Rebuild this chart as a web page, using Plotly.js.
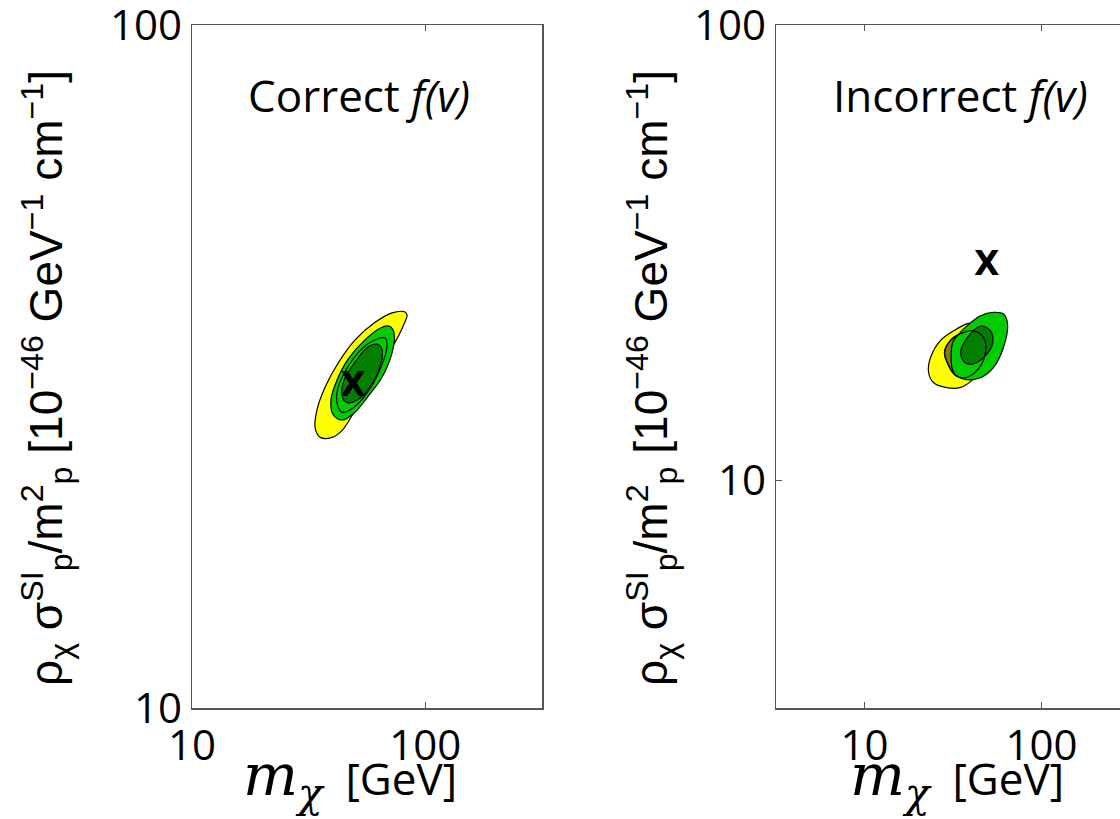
<!DOCTYPE html>
<html>
<head>
<meta charset="utf-8">
<script src="https://cdn.plot.ly/plotly-3.0.1.min.js"></script>
<style>
html,body{margin:0;padding:0;overflow:hidden;background:#fff;}
#chart{width:1150px;height:819px;}
</style>
</head>
<body>
<div id="chart"></div>
<script>
// ---- data (mass in GeV, rate in 1e-46 GeV^-1 cm^-1) ----
// Left panel: "Correct f(v)"
const leftYellowM = [81.8, 83.5, 80.2, 74.1, 65.2, 56.8, 50.0, 44.0, 39.8, 35.4, 33.7, 34.3, 37.2, 42.3, 50.0, 60.9, 72.0];
const leftYellowV = [38.0, 37.6, 36.2, 34.3, 32.0, 29.5, 27.3, 25.5, 24.9, 24.9, 25.7, 27.3, 29.5, 32.0, 34.6, 36.7, 37.9];
const leftGreenM = [70.6, 73.4, 72.0, 65.2, 56.8, 50.0, 44.0, 40.2, 39.4, 41.8, 46.6, 55.1, 65.2];
const leftGreenV = [36.2, 35.4, 33.1, 30.5, 28.6, 27.1, 26.4, 26.9, 28.3, 30.2, 32.4, 34.6, 36.1];
const leftLineM = [67.2, 68.5, 63.9, 56.2, 49.0, 44.0, 41.8, 42.3, 46.6, 54.1, 62.1];
const leftLineV = [34.8, 33.8, 31.3, 28.9, 27.5, 27.1, 28.0, 29.5, 31.6, 33.7, 34.7];
const leftDarkM = [62.1, 65.2, 63.9, 57.9, 51.5, 46.2, 44.0, 44.8, 50.0, 56.2];
const leftDarkV = [34.1, 33.5, 31.6, 29.5, 28.3, 28.0, 28.6, 30.2, 32.1, 33.7];

// Right panel: "Incorrect f(v)"
const rightYellowM = [38.2, 31.8, 26.9, 23.6, 23.0, 24.5, 28.7, 34.9, 40.7, 48.3, 51.5, 48.3, 42.4];
const rightYellowV = [22.1, 21.3, 20.3, 18.6, 17.3, 16.4, 16.0, 16.0, 16.6, 17.9, 19.8, 21.3, 22.1];
const rightOliveM = [28.3, 29.8, 32.7, 37.2, 44.1, 48.3, 47.0, 41.3, 34.9, 30.6];
const rightOliveV = [19.1, 17.9, 17.0, 16.8, 17.6, 19.1, 20.6, 21.3, 21.0, 20.3];
const rightGreenM = [31.4, 31.8, 36.2, 45.2, 53.6, 61.0, 64.3, 61.0, 53.6, 45.2, 38.2, 33.5];
const rightGreenV = [20.0, 17.3, 16.7, 16.8, 17.7, 19.6, 22.1, 23.2, 23.4, 23.0, 21.9, 20.8];
const rightDarkM = [34.9, 37.2, 40.7, 48.3, 52.9, 51.5, 45.2, 38.2];
const rightDarkV = [19.0, 18.1, 18.0, 18.8, 20.0, 21.3, 21.8, 20.6];

// True (benchmark) point, marked with an X
const trueM = [49];
const trueV = [29.4];

// Tick labels
const xTickVals = [10, 100, 1000];
const xTickText = ['10', '100', '1000'];
const yTickVals = [10, 100];
const yTickText = ['10', '100'];

// Panel labels
const panelLabels = ['Correct <i>f(v)</i>', 'Incorrect <i>f(v)</i>'];

// ---- styling ----
const W = 1150, H = 819;
const cYellow = '#ffff00', cOlive = '#7f7f00', cGreen = '#00cc00', cDark = '#007f00';
const outline = {color: '#000000', width: 1.2, shape: 'spline', smoothing: 1};

function closed(a){ return a.concat([a[0]]); }
function blob(m, v, fill, xa, ya){
  return {x: closed(m), y: closed(v), xaxis: xa, yaxis: ya, type: 'scatter', mode: 'lines',
          fill: 'toself', fillcolor: fill, line: outline, hoverinfo: 'skip', showlegend: false};
}
function ring(m, v, xa, ya){
  return {x: closed(m), y: closed(v), xaxis: xa, yaxis: ya, type: 'scatter', mode: 'lines',
          line: outline, hoverinfo: 'skip', showlegend: false};
}
function marker(xa, ya){
  return {x: trueM, y: trueV, xaxis: xa, yaxis: ya, type: 'scatter', mode: 'text',
          text: ['<b>X</b>'], textposition: 'middle center',
          textfont: {family: 'DejaVu Sans', size: 33, color: '#000'}, hoverinfo: 'skip', showlegend: false};
}

const traces = [
  blob(leftYellowM, leftYellowV, cYellow, 'x', 'y'),
  blob(leftGreenM, leftGreenV, cGreen, 'x', 'y'),
  ring(leftLineM, leftLineV, 'x', 'y'),
  blob(leftDarkM, leftDarkV, cDark, 'x', 'y'),
  marker('x', 'y'),
  blob(rightYellowM, rightYellowV, cYellow, 'x2', 'y2'),
  blob(rightOliveM, rightOliveV, cOlive, 'x2', 'y2'),
  blob(rightGreenM, rightGreenV, cGreen, 'x2', 'y2'),
  blob(rightDarkM, rightDarkV, cDark, 'x2', 'y2'),
  ring(rightOliveM, rightOliveV, 'x2', 'y2'),
  marker('x2', 'y2')
];

const tickFont = {family: 'Open Sans', size: 42, color: '#000'};
function axis(extra){
  return Object.assign({
    type: 'log', showgrid: false, zeroline: false, showline: true, linecolor: '#555',
    linewidth: 1.5, mirror: 'ticks', ticks: 'inside', ticklen: 6, tickcolor: '#555',
    tickwidth: 1, tickfont: tickFont, fixedrange: true, ticklabeloverflow: 'allow', ticklabelstandoff: 0
  }, extra);
}

const eps = 2e-4;
const yDom = [(H - 708) / H, (H - 25) / H];
const layout = {
  width: W, height: H,
  margin: {l: 0, r: 0, t: 0, b: 0},
  paper_bgcolor: '#fff', plot_bgcolor: '#fff',
  showlegend: false,
  xaxis: axis({domain: [192 / W, 542 / W], range: [1 - eps, 2.5], tickvals: xTickVals, ticktext: xTickText, anchor: 'y'}),
  yaxis: axis({domain: yDom, range: [1 - eps, 2 + eps], tickvals: yTickVals, ticktext: yTickText, anchor: 'x'}),
  xaxis2: axis({domain: [776 / W, 1130 / W], range: [0.5, 2.5], tickvals: xTickVals, ticktext: xTickText, anchor: 'y2'}),
  yaxis2: axis({domain: yDom, range: [0.5, 2 + eps], tickvals: yTickVals, ticktext: yTickText, anchor: 'x2'}),
  annotations: []
};

const yTitle = 'ρ<sub>χ</sub> σ<sup>SI</sup><sub>p</sub>/m<sup>2</sup><sub>p</sub> [10<sup>−46</sup> GeV<sup>−1</sup> cm<sup>−1</sup>]';
const xTitle = '<span style="font-family:\'DejaVu Serif\';font-size:58px"><i>m</i><sub><i>χ</i></sub></span>' +
               '\u00a0 [GeV]';

[[46, 350], [651, 957]].forEach(function(p, i){
  layout.annotations.push({
    xref: 'paper', yref: 'paper', x: p[0] / W, y: (H - 378) / H,
    text: yTitle, textangle: -90, showarrow: false, xanchor: 'center', yanchor: 'middle',
    font: {family: 'Liberation Sans', size: 46, color: '#000'}
  });
  layout.annotations.push({
    xref: 'paper', yref: 'paper', x: p[1] / W, y: 0,
    text: xTitle, showarrow: false, xanchor: 'center', yanchor: 'bottom',
    font: {family: 'Open Sans', size: 44, color: '#000'}
  });
  layout.annotations.push({
    xref: 'paper', yref: 'paper', x: (i === 0 ? 359 : 960) / W, y: (H - 95) / H,
    text: panelLabels[i], showarrow: false, xanchor: 'center', yanchor: 'middle',
    font: {family: 'Open Sans', size: 44, color: '#000'}
  });
});

Plotly.newPlot('chart', traces, layout, {displayModeBar: false, staticPlot: true});
</script>
</body>
</html>
